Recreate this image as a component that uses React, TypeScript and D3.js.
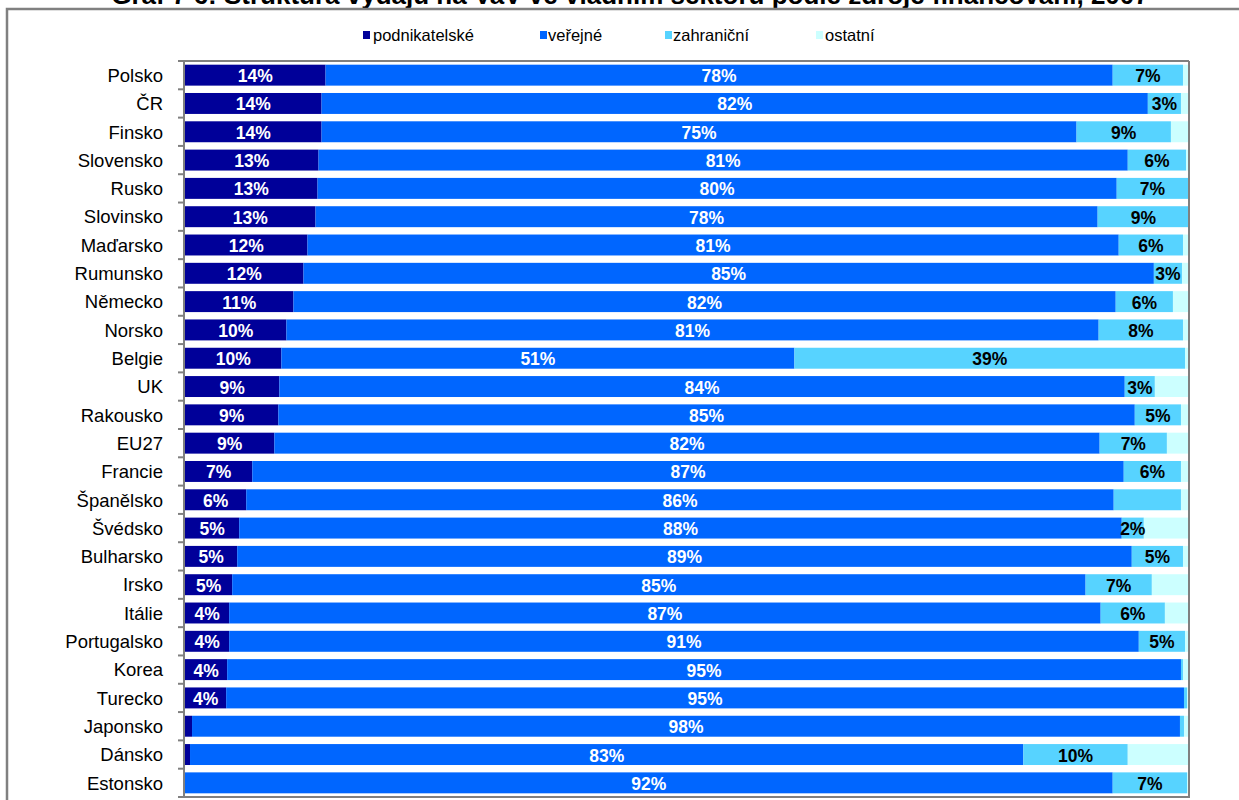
import React from "react";
import * as d3 from "d3";

const categories = [
  "Polsko", "ČR", "Finsko", "Slovensko", "Rusko", "Slovinsko", "Maďarsko", "Rumunsko",
  "Německo", "Norsko", "Belgie", "UK", "Rakousko", "EU27", "Francie", "Španělsko",
  "Švédsko", "Bulharsko", "Irsko", "Itálie", "Portugalsko", "Korea", "Turecko",
  "Japonsko", "Dánsko", "Estonsko",
];

const seriesNames = ["podnikatelské", "veřejné", "zahraniční", "ostatní"];

const podnikatelske = [14.0, 13.6, 13.6, 13.3, 13.2, 13.0, 12.2, 11.8, 10.8, 10.1, 9.6, 9.4, 9.3, 8.9, 6.7, 6.1, 5.4, 5.2, 4.7, 4.4, 4.4, 4.2, 4.1, 0.7, 0.5, 0.0];
const verejne = [78.4, 82.3, 75.2, 80.6, 79.6, 77.9, 80.8, 84.7, 81.9, 80.9, 51.1, 84.2, 85.3, 82.2, 86.8, 86.4, 87.9, 89.1, 85.0, 86.8, 90.6, 95.0, 95.4, 98.4, 83.0, 92.4];
const zahranicni = [7.0, 3.3, 9.4, 5.8, 7.1, 9.1, 6.4, 2.8, 5.7, 8.4, 38.9, 3.0, 4.6, 6.7, 5.7, 6.7, 2.2, 5.1, 6.6, 6.4, 4.6, 0.2, 0.3, 0.4, 10.4, 7.4];
const ostatni = [0.6, 0.8, 1.8, 0.3, 0.1, 0.0, 0.6, 0.7, 1.6, 0.6, 0.4, 3.4, 0.8, 2.2, 0.8, 0.8, 4.5, 0.6, 3.7, 2.4, 0.4, 0.6, 0.2, 0.5, 6.1, 0.2];

// labels that are not shown in the original (category, series index)
const hiddenLabels: [string, number][] = [["Španělsko", 2]];

const colors = ["#000099", "#0066FF", "#57D3FF", "#CCFFFF"];
const labelColors = ["#FFFFFF", "#FFFFFF", "#000000", null];

const title = "Graf 7 6: Struktura výdajů na VaV ve vládním sektoru podle zdroje financování, 2007";

const W = 1239;
const H = 800;
const plot = { left: 185, right: 1189, top: 61, bottom: 797 };

export default function App() {
  const series = [podnikatelske, verejne, zahranicni, ostatni];
  const x = d3.scaleLinear().domain([0, 100]).range([plot.left, plot.right]);
  const y = d3
    .scaleBand<string>()
    .domain(categories)
    .range([plot.top, plot.bottom])
    .paddingInner(0.26)
    .paddingOuter(0.13);
  const step = y.step();
  const font = "'Liberation Sans', Arial, sans-serif";

  const rows = categories.map((c, i) => {
    let acc = 0;
    return series.map((s, k) => {
      const v = s[i];
      const seg = { k, v, x0: acc, x1: acc + v };
      acc += v;
      return seg;
    });
  });

  const legendItems = [
    { sq: 363, tx: 373 },
    { sq: 540, tx: 548 },
    { sq: 665, tx: 673 },
    { sq: 816, tx: 825 },
  ];

  return (
    <svg
      width={W}
      height={H}
      style={{ position: "absolute", left: 0, top: 0, background: "#fff" }}
      fontFamily={font}
    >
      <text x={630} y={4} textAnchor="middle" fontSize={26} fontWeight="bold" fill="#000">
        {title}
      </text>
      <rect x={7} y={9} width={W + 20} height={H + 20} fill="none" stroke="#808080" strokeWidth={2.5} />

      {/* legend */}
      {seriesNames.map((n, k) => (
        <g key={n}>
          <rect x={legendItems[k].sq} y={31} width={7} height={8} fill={colors[k]} />
          <text x={legendItems[k].tx} y={40.5} fontSize={16.5} fill="#000">
            {n}
          </text>
        </g>
      ))}

      {/* bars */}
      {categories.map((c, i) => (
        <g key={c}>
          {rows[i].map((seg) =>
            seg.v > 0 ? (
              <rect
                key={seg.k}
                x={x(seg.x0)}
                y={y(c)}
                width={x(seg.x1) - x(seg.x0)}
                height={y.bandwidth()}
                fill={colors[seg.k]}
              />
            ) : null
          )}
        </g>
      ))}

      {/* plot frame */}
      <line x1={plot.left - 1} x2={plot.right} y1={plot.top} y2={plot.top} stroke="#808080" strokeWidth={2} />
      <line x1={plot.right} x2={plot.right} y1={plot.top} y2={plot.bottom} stroke="#808080" strokeWidth={2} />
      <line x1={plot.left - 1} x2={plot.right + 1} y1={plot.bottom} y2={plot.bottom} stroke="#808080" strokeWidth={2} />
      <line x1={plot.left - 1} x2={plot.left - 1} y1={plot.top} y2={plot.bottom + 1} stroke="#808080" strokeWidth={2} />
      {d3.range(categories.length + 1).map((j) => (
        <line
          key={j}
          x1={plot.left - 7}
          x2={plot.left - 1}
          y1={plot.top + j * step}
          y2={plot.top + j * step}
          stroke="#808080"
          strokeWidth={2}
        />
      ))}

      {/* data labels */}
      {categories.map((c, i) =>
        rows[i].map((seg) => {
          const lc = labelColors[seg.k];
          if (!lc || seg.v < 1.5) return null;
          if (hiddenLabels.some(([hc, hk]) => hc === c && hk === seg.k)) return null;
          const cy = (y(c) as number) + y.bandwidth() / 2;
          return (
            <text
              key={`${c}-${seg.k}`}
              x={(x(seg.x0) + x(seg.x1)) / 2}
              y={cy + 7}
              textAnchor="middle"
              fontSize={17.5}
              fontWeight="bold"
              fill={lc}
            >
              {Math.round(seg.v)}%
            </text>
          );
        })
      )}

      {/* category labels */}
      {categories.map((c) => (
        <text
          key={c}
          x={163}
          y={(y(c) as number) + y.bandwidth() / 2 + 6.8}
          textAnchor="end"
          fontSize={18.5}
          fill="#000"
        >
          {c}
        </text>
      ))}
    </svg>
  );
}
